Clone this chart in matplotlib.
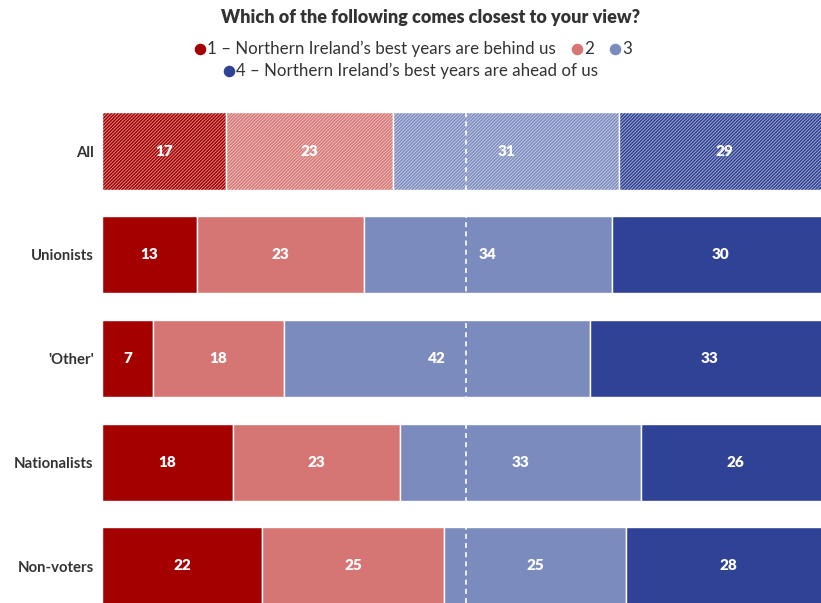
import matplotlib
matplotlib.use("Agg")
import matplotlib.pyplot as plt
from matplotlib.lines import Line2D
import numpy as np

plt.rcParams['font.family'] = ['Lato', 'DejaVu Sans']
plt.rcParams['hatch.linewidth'] = 0.55

# Survey data: share of respondents (%) per answer, by group
groups = ["All", "Unionists", "'Other'", "Nationalists", "Non-voters"]
behind_us = [17, 13, 7, 18, 22]      # 1 – best years are behind us
answer_2 = [23, 23, 18, 23, 25]
answer_3 = [31, 34, 42, 33, 25]
ahead_of_us = [29, 30, 33, 26, 28]   # 4 – best years are ahead of us

series = [behind_us, answer_2, answer_3, ahead_of_us]
colors = ["#A50000", "#D67674", "#7C8BBE", "#2F4295"]
legend_labels = ["1 – Northern Ireland\u2019s best years are behind us", "2", "3",
                 "4 – Northern Ireland\u2019s best years are ahead of us"]

W, H = 821, 603
fig = plt.figure(figsize=(W / 100, H / 100), dpi=100)

# Axes runs past the right edge so the 100% mark sits just outside the frame
left_px, right_px = 102, 830
ax = fig.add_axes([left_px / W, 0, (right_px - left_px) / W, 1])
row0_px, row_step = 151, 103.75
ax.set_ylim((H - row0_px) / row_step, -row0_px / row_step)
ax.set_xlim(0, 100)

y = np.arange(len(groups))
bar_h = 0.745
left = np.zeros(len(groups))
for vals, col in zip(series, colors):
    vals = np.array(vals, dtype=float)
    for i in range(len(groups)):
        if i == 0:
            # Overall row is drawn with a fine diagonal hatch
            ax.barh(y[i], vals[i], left=left[i], height=bar_h, color=col,
                    edgecolor=(1, 1, 1, 0.65), hatch='/' * 10, linewidth=0)
        else:
            ax.barh(y[i], vals[i], left=left[i], height=bar_h, color=col,
                    linewidth=0)
        ax.barh(y[i], vals[i], left=left[i], height=bar_h, fill=False,
                edgecolor='white', linewidth=1.0)
        ax.text(left[i] + vals[i] / 2, y[i], f"{int(vals[i])}", ha='center',
                va='center', color='white', fontsize=11, fontweight='heavy')
    left += vals

ax.axvline(50, color='white', linestyle=(0, (3, 2.5)), linewidth=1.2, zorder=3)

ax.set_yticks(y)
ax.set_yticklabels(groups, fontsize=10.7, fontweight='bold', color='#333333')
ax.tick_params(axis='y', length=0, pad=6)
ax.set_xticks([])
for s in ax.spines.values():
    s.set_visible(False)

# Title
fig.text(431 / W, 1 - 17 / H, "Which of the following comes closest to your view?",
         ha='center', va='center', fontsize=13, fontweight='heavy', color='#333333')

# Legend drawn as two centred lines of dot + label
def legend_item(x_dot, y_px, col, label):
    fig.add_artist(Line2D([x_dot / W], [1 - y_px / H], marker='o', markersize=7.3,
                          color=col, linestyle='none', transform=fig.transFigure))
    fig.text((x_dot + 7) / W, 1 - y_px / H, label, ha='left', va='center',
             fontsize=12.2, color='#333333')

legend_item(200, 49, colors[0], legend_labels[0])
legend_item(577, 49, colors[1], legend_labels[1])
legend_item(615, 49, colors[2], legend_labels[2])
legend_item(229, 71, colors[3], legend_labels[3])

fig.savefig("out.png", dpi=100)
